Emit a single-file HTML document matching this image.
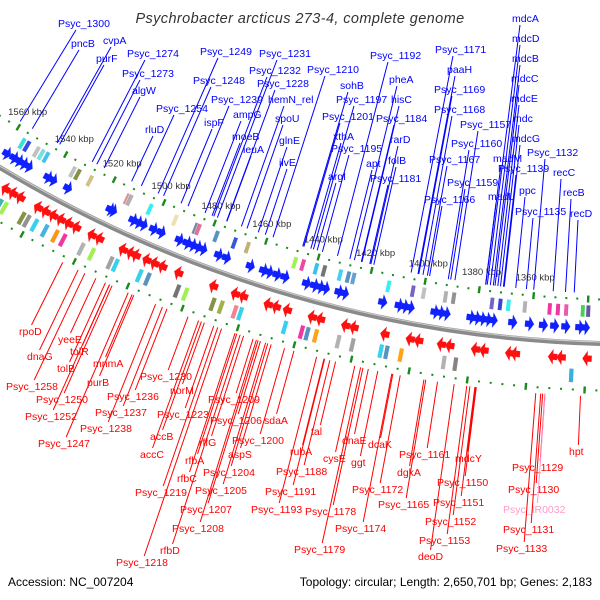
<!DOCTYPE html>
<html><head><meta charset="utf-8"><style>
html,body{margin:0;padding:0;background:#fff}
svg{display:block}
text{font-family:"Liberation Sans",sans-serif}
</style></head><body>
<svg id="map" width="600" height="600" viewBox="0 0 600 600" xmlns="http://www.w3.org/2000/svg">
<text x="300" y="23" text-anchor="middle" font-style="italic" font-size="14.5" fill="#333" letter-spacing="0.4">Psychrobacter arcticus 273-4, complete genome</text>
<text x="8" y="586" font-size="12" fill="#000">Accession: NC_007204</text>
<text x="592" y="586" text-anchor="end" font-size="12" fill="#000">Topology: circular; Length: 2,650,701 bp; Genes: 2,183</text>
<g id="g"></g>
</svg>
<script>
// ---- data ----
const forwardGenes = [1557,1554,1552,1550,1548,1540,1538,1532,1515,1514,1506,1504,1502,1498,1495,1488,1485,1483,1481,1479,1473,1470,1461,1456,1454,1451,1448,1440,1437,1435,1433,1428,1426,1412,1406,1404,1402,1393,1391,1389,1380,1378,1376,1374,1372,1365,1359,1354,1350,1346,1341,1339];
const reverseGenes = [1551,1548,1545,1538,1535,1532,1529,1526,1523,1517,1514,1505,1502,1500,1496,1493,1490,1484,1471,1463,1460,1451,1448,1444,1435,1432,1423,1420,1409,1400,1397,1389,1386,1377,1374,1365,1363,1350,1347,1338];
const forwardBoxes = [1555,1553,1549,1547,1545,1534,1532,1527,1512,1511,1503,1493,1485,1484,1477,1470,1465,1447,1444,1439,1436,1430,1427,1425,1412,1403,1399,1391,1388,1374,1371,1368,1362,1353,1350,1347,1341,1339];
const forwardBoxColors = ["#22dddd","#2233dd","#bbbbbb","#66dddd","#33bbee","#bbbbbb","#778833","#ccbb77","#dd8888","#aaaaaa","#22eeee","#eeddaa","#6677aa","#dd6688","#4488bb","#2244dd","#bbaa66","#99ee44","#ee3399","#22bbee","#666666","#33ccee","#4488bb","#5599cc","#22eeee","#6655bb","#bbbbbb","#aaaaaa","#888888","#6655bb","#2233cc","#22eeee","#aaaaaa","#ee2299","#ee2299","#ee44aa","#33cc44","#554499"];
const reverseBoxes = [1551,1549,1542,1540,1537,1533,1529,1526,1519,1515,1508,1506,1497,1494,1483,1480,1470,1467,1462,1460,1444,1438,1436,1433,1425,1420,1410,1408,1403,1388,1384,1344];
const reverseBoxColors = ["#33aaaa","#99ee44","#778833","#888888","#22ccee","#33aadd","#ff8800","#ee2299","#aaaaaa","#99ee44","#999999","#22ccee","#22ccee","#4488bb","#666666","#99ee44","#778833","#99aa33","#ee7788","#22ccee","#22ccee","#ee2299","#4488bb","#ff9900","#aaaaaa","#999999","#22ccee","#4488bb","#ff9900","#aaaaaa","#777777","#22aadd"];
const tickLabels = [1560,1540,1520,1500,1480,1460,1440,1420,1400,1380,1360];
const blueLabels = ["Psyc_1300","pncB","cvpA","purF","Psyc_1274","Psyc_1273","algW","Psyc_1249","Psyc_1248","Psyc_1254","Psyc_1239","rluD","ispF","ampG","moeB","leuA","Psyc_1232","Psyc_1231","Psyc_1228","hemN_rel","spoU","glnE","ilvE","Psyc_1210","Psyc_1192","sohB","pheA","Psyc_1197","hisC","Psyc_1201","Psyc_1184","xthA","rarD","Psyc_1195","apt","folB","argI","Psyc_1181","Psyc_1171","paaH","Psyc_1169","Psyc_1168","Psyc_1157","Psyc_1160","Psyc_1167","Psyc_1159","Psyc_1166","mdcA","mdcD","mdcB","mdcC","mdcE","mdc","mdcG","madM","Psyc_1139","madL","ppc","Psyc_1132","recC","recB","Psyc_1135","recD"];
const blueLabelX = [58,71,103,96,127,122,132,200,193,156,211,145,204,233,232,243,249,259,257,268,275,279,279,307,370,340,389,336,391,322,376,333,390,331,366,388,328,370,435,447,434,434,460,451,429,447,424,512,512,512,511,511,513,512,493,498,488,519,527,553,563,515,570];
const blueLabelY = [27,47,44,62,57,77,94,55,84,112,103,133,126,118,140,153,74,57,87,103,122,144,166,73,59,89,83,103,103,120,122,140,143,152,167,164,180,182,53,73,93,113,128,147,163,186,203,22,42,62,82,102,122,142,162,172,200,194,156,176,196,215,217];
const redLabels = ["rpoD","yeeE","dnaG","tolR","tolB","mnmA","Psyc_1258","purB","Psyc_1250","Psyc_1252","Psyc_1247","Psyc_1236","Psyc_1237","Psyc_1238","Psyc_1230","norM","Psyc_1223","accB","accC","Psyc_1209","Psyc_1206","sdaA","Psyc_1200","rffG","rfbA","aspS","Psyc_1204","rfbC","Psyc_1219","Psyc_1205","Psyc_1207","Psyc_1208","rfbD","Psyc_1218","tal","rubA","Psyc_1188","Psyc_1191","Psyc_1193","cysE","Psyc_1178","dnaE","ggt","Psyc_1174","Psyc_1179","dcaK","Psyc_1172","Psyc_1165","dgkA","Psyc_1161","mdcY","Psyc_1150","Psyc_1151","Psyc_1152","Psyc_1153","deoD","Psyc_1129","Psyc_1130","Psyc_IR0032","Psyc_1131","Psyc_1133","hpt"];
const redLabelX = [19,58,27,70,57,93,6,87,36,25,38,107,95,80,140,170,157,150,140,208,210,264,232,199,185,228,203,177,135,195,180,172,160,116,311,290,276,265,251,323,305,342,351,335,294,368,352,378,397,399,455,437,433,425,419,418,512,508,503,503,496,569];
const redLabelY = [335,343,360,355,372,367,390,386,403,420,447,400,416,432,380,394,418,440,458,403,424,424,444,446,464,458,476,482,496,494,513,532,554,566,435,455,475,495,513,462,515,444,466,532,553,448,493,508,476,458,462,486,506,525,544,560,471,493,513,533,552,455];

// ---- geometry ----
const CX = 635, CY = -887, R = 1231;
function ang(kbp){ return (94.9 + (kbp - 1360) * 0.132) * Math.PI / 180; }
function pt(r, kbp){ const a = ang(kbp); return [CX + r*Math.cos(a), CY + r*Math.sin(a)]; }
const NS = "http://www.w3.org/2000/svg";
const G = document.getElementById('g');
function mk(tag, attrs){ const e = document.createElementNS(NS, tag); for (const k in attrs) e.setAttribute(k, attrs[k]); G.appendChild(e); return e; }
function poly(points){ return points.map(p => p[0].toFixed(1)+","+p[1].toFixed(1)).join(" "); }

// backbone arc
{
  const a = pt(R, 1575), b = pt(R, 1315);
  let e = mk('path', {d:`M${a[0]},${a[1]} A${R},${R} 0 0 0 ${b[0]},${b[1]}`, fill:'none', stroke:'#8a8a8a', 'stroke-width':5});
  
  
  let e2 = mk('path', {d:`M${a[0]},${a[1]-1.5} A${R},${R} 0 0 0 ${b[0]},${b[1]-1.5}`, fill:'none', stroke:'#c8c8c8', 'stroke-width':1.2});
  
  
}

// tick rings
for (let k = 1320; k <= 1572; k += 4) {
  [R-44, R+47].forEach(r => {
    const big = (k % 20 === 0);
    const h = big ? 3.5 : 1;
    const a = pt(r-h, k), b = pt(r+h, k);
    const e = mk('line', {x1:a[0], y1:a[1], x2:b[0], y2:b[1], stroke:'#1a8a1a', 'stroke-width': big ? 2.4 : 2});
    
    
  });
}
tickLabels.forEach(k => {
  const p = pt(R-62, k);
  const e = mk('text', {x:p[0], y:p[1]+3, 'text-anchor':'middle', 'font-size':9.5, fill:'#333'});
  e.textContent = k + " kbp";
  
  
});

// boxes
function box(k, r1, r2, color, name){
  const pts = [pt(r1,k), pt(r1,k+1.6), pt(r2,k+1.6), pt(r2,k)];
  const e = mk('polygon', {points:poly(pts), fill:color, stroke:'#fff', 'stroke-width':0.5, opacity:0.9});
  
  
}
forwardBoxes.forEach((k,i) => box(k, R-38, R-26, forwardBoxColors[i], 'forward-feature'));
reverseBoxes.forEach((k,i) => box(k, R+26, R+40, reverseBoxColors[i], 'reverse-feature'));

// arrows
function arrow(k, r1, r2, color, dir, name){
  const L = 3.2, rm = (r1+r2)/2;
  let pts;
  if (dir > 0) {
    pts = [pt(rm-3,k+L), pt(rm-3,k+L*0.55), pt(r1,k+L*0.55), pt(rm,k), pt(r2,k+L*0.55), pt(rm+3,k+L*0.55), pt(rm+3,k+L)];
  } else {
    pts = [pt(rm-3,k), pt(rm-3,k+L*0.45), pt(r1,k+L*0.45), pt(rm,k+L), pt(r2,k+L*0.45), pt(rm+3,k+L*0.45), pt(rm+3,k)];
  }
  const e = mk('polygon', {points:poly(pts), fill:color, stroke:color, 'stroke-width':0.4, 'stroke-opacity':0.5});
  
  
}
forwardGenes.forEach(k => arrow(k, R-23, R-8, '#1020ff', 1, 'forward-gene'));
reverseGenes.forEach(k => arrow(k, R+8, R+23, '#ff1010', -1, 'reverse-gene'));

// labels
function lab(t, x, y, color, isBlue){
  const w = t.length * 5.7;
  let sx, sy, target;
  if (isBlue) { sx = x + w*0.35; sy = y + 3; target = R - 50; }
  else { sx = x + w*0.55; sy = y - 10; target = R + 53; }
  const dx = sx - CX, dy = sy - CY, d = Math.hypot(dx, dy);
  const ex = CX + dx/d*target, ey = CY + dy/d*target;
  const l = mk('line', {x1:sx, y1:sy, x2:ex, y2:ey, stroke:color, 'stroke-width':1});
  
  
  const e = mk('text', {x:x, y:y, 'font-size':10.5, fill:color});
  e.textContent = t;
  
  
}
blueLabels.forEach((t,i) => lab(t, blueLabelX[i], blueLabelY[i], '#0000ff', true));
redLabels.forEach((t,i) => lab(t, redLabelX[i], redLabelY[i], t === 'Psyc_IR0032' ? '#ff99cc' : '#ff0000', false));
</script>
</body></html>
